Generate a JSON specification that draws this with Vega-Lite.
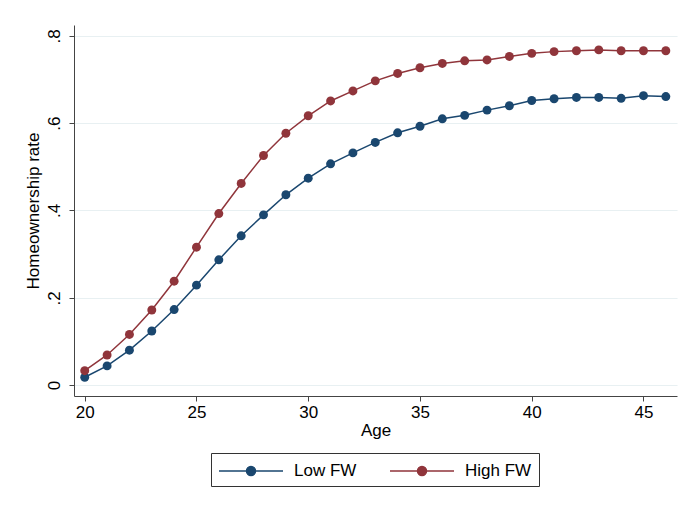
{
  "$schema": "https://vega.github.io/schema/vega-lite/v6.json",
  "width": 603,
  "height": 371,
  "autosize": "none",
  "padding": {"left": 74, "top": 25, "right": 11, "bottom": 111},
  "background": "white",
  "config": {
    "font": "Liberation Sans",
    "view": {"stroke": null}
  },
  "data": {
    "values": [
      {"age": 20, "series": "Low FW", "rate": 0.018},
      {"age": 21, "series": "Low FW", "rate": 0.044},
      {"age": 22, "series": "Low FW", "rate": 0.080},
      {"age": 23, "series": "Low FW", "rate": 0.124},
      {"age": 24, "series": "Low FW", "rate": 0.173},
      {"age": 25, "series": "Low FW", "rate": 0.229},
      {"age": 26, "series": "Low FW", "rate": 0.287},
      {"age": 27, "series": "Low FW", "rate": 0.342},
      {"age": 28, "series": "Low FW", "rate": 0.390},
      {"age": 29, "series": "Low FW", "rate": 0.436},
      {"age": 30, "series": "Low FW", "rate": 0.474},
      {"age": 31, "series": "Low FW", "rate": 0.507},
      {"age": 32, "series": "Low FW", "rate": 0.532},
      {"age": 33, "series": "Low FW", "rate": 0.556},
      {"age": 34, "series": "Low FW", "rate": 0.578},
      {"age": 35, "series": "Low FW", "rate": 0.593},
      {"age": 36, "series": "Low FW", "rate": 0.610},
      {"age": 37, "series": "Low FW", "rate": 0.618},
      {"age": 38, "series": "Low FW", "rate": 0.630},
      {"age": 39, "series": "Low FW", "rate": 0.640},
      {"age": 40, "series": "Low FW", "rate": 0.652},
      {"age": 41, "series": "Low FW", "rate": 0.656},
      {"age": 42, "series": "Low FW", "rate": 0.659},
      {"age": 43, "series": "Low FW", "rate": 0.659},
      {"age": 44, "series": "Low FW", "rate": 0.657},
      {"age": 45, "series": "Low FW", "rate": 0.663},
      {"age": 46, "series": "Low FW", "rate": 0.661},
      {"age": 20, "series": "High FW", "rate": 0.033},
      {"age": 21, "series": "High FW", "rate": 0.069},
      {"age": 22, "series": "High FW", "rate": 0.116},
      {"age": 23, "series": "High FW", "rate": 0.172},
      {"age": 24, "series": "High FW", "rate": 0.238},
      {"age": 25, "series": "High FW", "rate": 0.316},
      {"age": 26, "series": "High FW", "rate": 0.393},
      {"age": 27, "series": "High FW", "rate": 0.462},
      {"age": 28, "series": "High FW", "rate": 0.526},
      {"age": 29, "series": "High FW", "rate": 0.577},
      {"age": 30, "series": "High FW", "rate": 0.617},
      {"age": 31, "series": "High FW", "rate": 0.651},
      {"age": 32, "series": "High FW", "rate": 0.674},
      {"age": 33, "series": "High FW", "rate": 0.697},
      {"age": 34, "series": "High FW", "rate": 0.714},
      {"age": 35, "series": "High FW", "rate": 0.727},
      {"age": 36, "series": "High FW", "rate": 0.737},
      {"age": 37, "series": "High FW", "rate": 0.743},
      {"age": 38, "series": "High FW", "rate": 0.745},
      {"age": 39, "series": "High FW", "rate": 0.753},
      {"age": 40, "series": "High FW", "rate": 0.760},
      {"age": 41, "series": "High FW", "rate": 0.764},
      {"age": 42, "series": "High FW", "rate": 0.766},
      {"age": 43, "series": "High FW", "rate": 0.768},
      {"age": 44, "series": "High FW", "rate": 0.766},
      {"age": 45, "series": "High FW", "rate": 0.766},
      {"age": 46, "series": "High FW", "rate": 0.766}
    ]
  },
  "encoding": {
    "x": {
      "field": "age",
      "type": "quantitative",
      "scale": {"domain": [19.52, 46.5], "nice": false, "zero": false},
      "axis": {
        "title": "Age",
        "values": [20, 25, 30, 35, 40, 45],
        "grid": false,
        "domainColor": "#444",
        "tickColor": "#444",
        "tickSize": 5,
        "labelFontSize": 17,
        "labelColor": "#000",
        "labelPadding": 3,
        "titleFontSize": 17,
        "titleFontWeight": "normal",
        "titleColor": "#000",
        "titlePadding": 2
      }
    },
    "y": {
      "field": "rate",
      "type": "quantitative",
      "scale": {"domain": [-0.025, 0.825], "nice": false, "zero": false},
      "axis": {
        "title": "Homeownership rate",
        "values": [0, 0.2, 0.4, 0.6, 0.8],
        "labelExpr": "datum.value == 0 ? '0' : replace(format(datum.value, '.1f'), '0.', '.')",
        "grid": true,
        "gridColor": "#e8f0f2",
        "gridWidth": 1.2,
        "domainColor": "#444",
        "tickColor": "#444",
        "tickSize": 5,
        "labelAngle": -90,
        "labelAlign": "center",
        "labelBaseline": "bottom",
        "labelFontSize": 17,
        "labelColor": "#000",
        "labelPadding": 6,
        "titleFontSize": 17,
        "titleFontWeight": "normal",
        "titleColor": "#000",
        "titlePadding": 3
      }
    },
    "color": {
      "field": "series",
      "type": "nominal",
      "sort": ["Low FW", "High FW"],
      "scale": {"domain": ["Low FW", "High FW"], "range": ["#1a476f", "#90353b"]},
      "legend": {
        "title": null,
        "orient": "none",
        "legendX": 137,
        "legendY": 428,
        "direction": "horizontal",
        "symbolType": "M-1,0H5.4M2.65,0A0.45,0.45 0 1,1 1.75,0A0.45,0.45 0 1,1 2.65,0Z",
        "symbolSize": 400,
        "symbolStrokeWidth": 1.5,
        "symbolOpacity": 1,
        "labelFontSize": 17,
        "labelColor": "#000",
        "labelOffset": 54,
        "columnPadding": 30,
        "padding": 7,
        "strokeColor": "#333",
        "fillColor": "white"
      }
    }
  },
  "layer": [
    {"mark": {"type": "line", "strokeWidth": 1.5}},
    {"mark": {"type": "point", "filled": true, "size": 80, "opacity": 1, "shape": "circle"}}
  ]
}
